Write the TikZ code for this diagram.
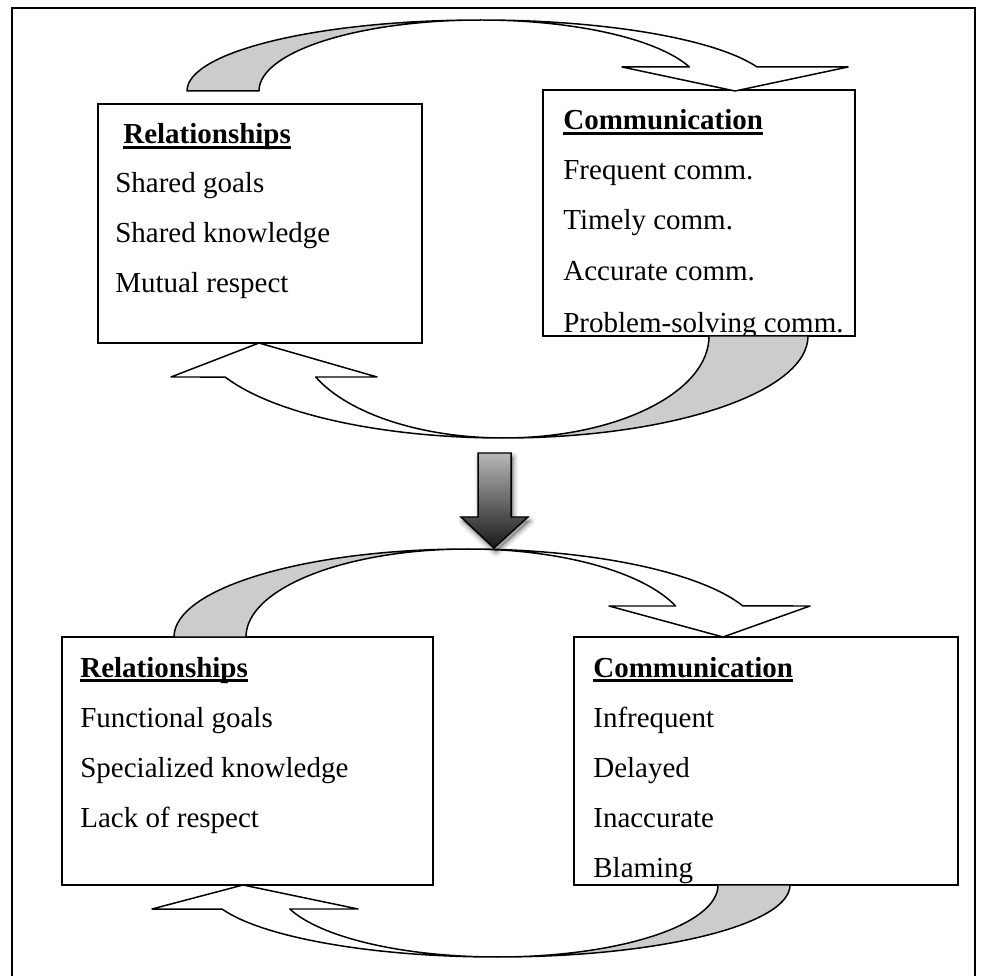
\documentclass[tikz,border=0pt]{standalone}
\usepackage{fontspec}
\setmainfont{Liberation Serif}
\newcommand\hul[1]{\setbox0=\hbox{#1}\rlap{\rule[-2.6pt]{\wd0}{1.2pt}}\box0}
\begin{document}
\begin{tikzpicture}[x=0.02cm,y=0.02cm,
  box/.style={draw=black, line width=0.85pt, fill=white, inner sep=0pt, outer sep=0pt, anchor=north west},
  txt/.style={anchor=base west, inner sep=0pt, font=\fontsize{16.5}{20}\selectfont},
  hd/.style={anchor=base west, inner sep=0pt, font=\fontsize{16.5}{20}\selectfont\bfseries},
  band/.style={draw=black, line width=0.85pt, line join=round},
  back/.style={band, fill=black!20},
  front/.style={band, fill=white}]
\useasboundingbox (0,0) rectangle (1008,-976);
% frame
\draw[line width=1.2pt] (12,-976) -- (12,-8) -- (975,-8) -- (975,-976);
% boxes
\node[box, minimum width=6.48cm, minimum height=4.78cm] (r1) at (98,-104) {};
\node[box, minimum width=6.24cm, minimum height=4.92cm] (c1) at (543,-90) {};
\node[box, minimum width=7.42cm, minimum height=4.96cm] (r2) at (62,-637) {};
\node[box, minimum width=7.68cm, minimum height=4.96cm] (c2) at (574,-637) {};
% texts top cycle
\node[hd] (r1h) at (123,-144) {\hul{Relationships}};
\node[txt] (r1a) at (115,-193) {Shared goals};
\node[txt] (r1b) at (115,-243) {Shared knowledge};
\node[txt] (r1c) at (115,-293) {Mutual respect};
\begin{scope}
\clip (543,-90) rectangle (855,-336);
\node[hd] (c1h) at (563,-130) {\hul{Communication}};
\node[txt] (c1a) at (563,-180) {Frequent comm.};
\node[txt] (c1b) at (563,-230) {Timely comm.};
\node[txt] (c1c) at (563,-281) {Accurate comm.};
\node[txt] (c1d) at (563,-333) {Problem-solving comm.};
\end{scope}
\draw[line width=0.85pt] (543,-336) -- (855,-336);
% texts bottom cycle
\node[hd] (r2h) at (80,-677) {\hul{Relationships}};
\node[txt] (r2a) at (80,-727) {Functional goals};
\node[txt] (r2b) at (80,-777) {Specialized knowledge};
\node[txt] (r2c) at (80,-827) {Lack of respect};
\node[hd] (c2h) at (593,-677) {\hul{Communication}};
\node[txt] (c2a) at (593,-727) {Infrequent};
\node[txt] (c2b) at (593,-777) {Delayed};
\node[txt] (c2c) at (593,-827) {Inaccurate};
\node[txt] (c2d) at (593,-877) {Blaming};
% A1: top cycle, over the top
\draw[back] (187,-91) arc[start angle=180, end angle=90, x radius=5.874cm, y radius=1.42cm]
  arc[start angle=90, end angle=180, x radius=4.434cm, y radius=1.42cm] -- cycle;
\draw[front] (480.7,-20) arc[start angle=90, end angle=19.75, x radius=5.874cm, y radius=1.42cm]
  -- (848,-67) -- (735,-91) -- (622,-67) -- (689.4,-67)
  arc[start angle=19.75, end angle=90, x radius=4.434cm, y radius=1.42cm] -- cycle;
% A2: top cycle, underneath
\draw[back] (808,-336) arc[start angle=0, end angle=-90, x radius=6.086cm, y radius=2.04cm]
  arc[start angle=-90, end angle=0, x radius=4.106cm, y radius=2.04cm] -- cycle;
\draw[front] (503.7,-438) arc[start angle=-90, end angle=-156.3, x radius=6.086cm, y radius=2.04cm]
  -- (171,-377) -- (259,-343) -- (377,-377) -- (315.7,-377)
  arc[start angle=-156.3, end angle=-90, x radius=4.106cm, y radius=2.04cm] -- cycle;
% A3: bottom cycle, over the top
\draw[back] (174,-637) arc[start angle=180, end angle=90, x radius=5.878cm, y radius=1.76cm]
  arc[start angle=90, end angle=180, x radius=4.438cm, y radius=1.76cm] -- cycle;
\draw[front] (467.9,-549) arc[start angle=90, end angle=20.63, x radius=5.878cm, y radius=1.76cm]
  -- (810,-606) -- (723,-637) -- (609,-606) -- (675.6,-606)
  arc[start angle=20.63, end angle=90, x radius=4.438cm, y radius=1.76cm] -- cycle;
% down arrow with soft shadow
\foreach \s/\o in {6/0.04,4.5/0.06,3/0.08,1.5/0.1}{
  \fill[black, opacity=\o, line join=round, draw=black, line width=\s pt, draw opacity=\o]
    ([shift={(2,-4)}]478,-453) -- ([shift={(2,-4)}]511,-453) -- ([shift={(2,-4)}]511,-517) -- ([shift={(2,-4)}]528,-517)
    -- ([shift={(2,-4)}]494,-548) -- ([shift={(2,-4)}]461,-517) -- ([shift={(2,-4)}]478,-517) -- cycle;
}
\draw[line width=0.85pt, top color=black!28, bottom color=black!90, line join=miter]
  (478,-453) -- (511,-453) -- (511,-517) -- (528,-517) -- (494,-548) -- (461,-517) -- (478,-517) -- cycle;
% A4: bottom cycle, underneath
\draw[back] (790,-885) arc[start angle=0, end angle=-90, x radius=5.848cm, y radius=1.44cm]
  arc[start angle=-90, end angle=0, x radius=4.408cm, y radius=1.44cm] -- cycle;
\draw[front] (497.6,-957) arc[start angle=-90, end angle=-160.53, x radius=5.848cm, y radius=1.44cm]
  -- (152,-909) -- (243,-885) -- (358,-909) -- (289.8,-909)
  arc[start angle=-160.53, end angle=-90, x radius=4.408cm, y radius=1.44cm] -- cycle;
\end{tikzpicture}
\end{document}
